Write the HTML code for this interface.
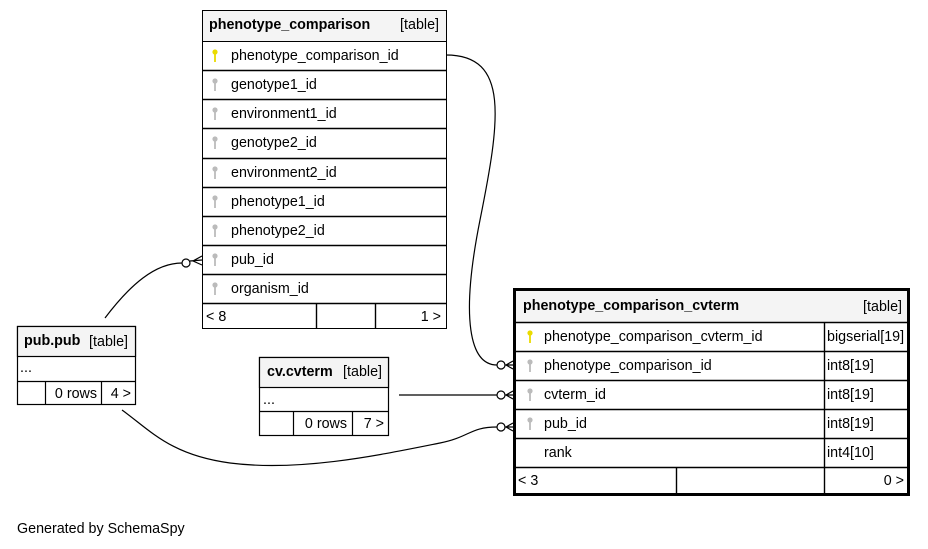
<!DOCTYPE html>
<html><head><meta charset="utf-8"><style>
html,body{margin:0;padding:0;background:#fff}
svg{display:block}
text{font-family:"Liberation Sans",Arial,sans-serif;font-size:14.3px;fill:#000}
.b{font-weight:bold}
</style></head><body>
<svg width="928" height="549" viewBox="0 0 928 549" xmlns="http://www.w3.org/2000/svg">
<defs>
<g id="ky"><circle cx="0" cy="-3" r="2.6" fill="#eadb00"/><rect x="-0.9" y="-1" width="1.8" height="8" fill="#eadb00"/></g>
<g id="kg"><circle cx="0" cy="-3" r="2.6" fill="#bbb"/><rect x="-0.9" y="-1" width="1.8" height="8" fill="#bbb"/></g>
</defs>

<g fill="none" stroke="#000" stroke-width="1.2">
<path d="M446,55 C510,55 500,120 480,220 C460,320 470,365 497,365"/>
<path d="M399,395 L497,395"/>
<path d="M105,318 C130,285 155,263 182,263"/>
<path d="M122,410 C150,430 170,455 230,463 C300,472 380,455 440,443 C470,437 470,427 497,427"/>
</g>
<g fill="#fff" stroke="#000" stroke-width="1.2">
<circle cx="501" cy="365" r="4"/><circle cx="501" cy="395" r="4"/><circle cx="501" cy="427" r="4"/><circle cx="186" cy="263" r="4"/>
</g>
<g fill="none" stroke="#000" stroke-width="1.2">
<path d="M505,365 L513,365 M513,361 L506,365 L513,369"/>
<path d="M505,395 L513,395 M513,391 L506,395 L513,399"/>
<path d="M505,427 L513,427 M513,423 L506,427 L513,431"/>
<path d="M190,261 L202,260 M202,256 L193,261 L202,265"/>
</g>

<g stroke="#000" stroke-width="1" fill="none">
<rect x="202.5" y="10.5" width="244" height="318" fill="#fff"/>
<rect x="202.5" y="10.5" width="244" height="31" fill="#f4f4f4"/>
<path d="M202,70.5H446M202,99.5H446M202,128.5H446M202,158.5H446M202,187.5H446M202,216.5H446M202,245.5H446M202,274.5H446M202,303.5H446M316.5,303V329M375.5,303V329" stroke-width="1.4"/>
</g>
<text x="209" y="29" class="b">phenotype_comparison</text><text x="439" y="29" text-anchor="end">[table]</text>
<use href="#ky" x="215" y="55"/><text x="231" y="60">phenotype_comparison_id</text>
<use href="#kg" x="215" y="84"/><text x="231" y="89">genotype1_id</text>
<use href="#kg" x="215" y="113"/><text x="231" y="118">environment1_id</text>
<use href="#kg" x="215" y="142"/><text x="231" y="147">genotype2_id</text>
<use href="#kg" x="215" y="172"/><text x="231" y="177">environment2_id</text>
<use href="#kg" x="215" y="201"/><text x="231" y="206">phenotype1_id</text>
<use href="#kg" x="215" y="230"/><text x="231" y="235">phenotype2_id</text>
<use href="#kg" x="215" y="259"/><text x="231" y="264">pub_id</text>
<use href="#kg" x="215" y="288"/><text x="231" y="293">organism_id</text>
<text x="206" y="321">&lt; 8</text><text x="441" y="321" text-anchor="end">1 &gt;</text>

<g stroke="#000" fill="none">
<rect x="514.5" y="289.5" width="394" height="205" fill="#fff" stroke-width="3"/>
<rect x="516" y="291" width="391" height="31" fill="#f4f4f4" stroke="none"/>
<path d="M515,322.5H908M515,351.5H908M515,380.5H908M515,409.5H908M515,438.5H908M515,467.5H908M824.5,322V494M676.5,467V494" stroke-width="1.4"/>
</g>
<text x="523" y="310" class="b">phenotype_comparison_cvterm</text><text x="902" y="311" text-anchor="end">[table]</text>
<use href="#ky" x="530" y="336"/><text x="544" y="341">phenotype_comparison_cvterm_id</text><text x="827" y="341">bigserial[19]</text>
<use href="#kg" x="530" y="365"/><text x="544" y="370">phenotype_comparison_id</text><text x="827" y="370">int8[19]</text>
<use href="#kg" x="530" y="394"/><text x="544" y="399">cvterm_id</text><text x="827" y="399">int8[19]</text>
<use href="#kg" x="530" y="423"/><text x="544" y="428">pub_id</text><text x="827" y="428">int8[19]</text>
<text x="544" y="457">rank</text><text x="827" y="457">int4[10]</text>
<text x="518" y="485">&lt; 3</text><text x="904" y="485" text-anchor="end">0 &gt;</text>

<g stroke="#000" fill="none" stroke-width="1.2">
<rect x="17.5" y="326.5" width="118" height="78" fill="#fff"/>
<rect x="17.5" y="326.5" width="118" height="30" fill="#f4f4f4"/>
<path d="M17,381.5H136M45.5,381V405M101.5,381V405"/>
</g>
<text x="24" y="345" class="b">pub.pub</text><text x="128" y="346" text-anchor="end">[table]</text>
<text x="20" y="372">...</text>
<text x="97" y="398" text-anchor="end">0 rows</text><text x="131" y="398" text-anchor="end">4 &gt;</text>

<g stroke="#000" fill="none" stroke-width="1.2">
<rect x="259.5" y="357.5" width="129" height="78" fill="#fff"/>
<rect x="259.5" y="357.5" width="129" height="30" fill="#f4f4f4"/>
<path d="M259,411.5H389M293.5,411V436M352.5,411V436"/>
</g>
<text x="267" y="376" class="b">cv.cvterm</text><text x="382" y="376" text-anchor="end">[table]</text>
<text x="263" y="404">...</text>
<text x="347" y="428" text-anchor="end">0 rows</text><text x="384" y="428" text-anchor="end">7 &gt;</text>

<text x="17" y="533">Generated by SchemaSpy</text>
</svg>
</body></html>
